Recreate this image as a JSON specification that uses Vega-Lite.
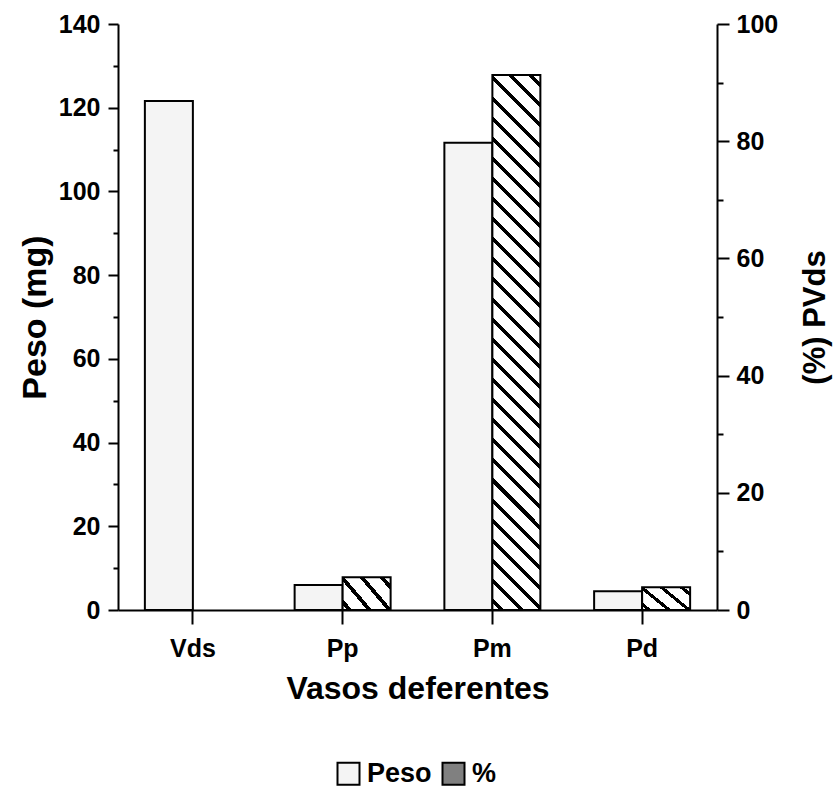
{
  "$schema": "https://vega.github.io/schema/vega-lite/v6.json",
  "autosize": "none",
  "padding": {"left": 118, "top": 24, "right": 118, "bottom": 196},
  "width": 599,
  "height": 586,
  "config": {
    "font": "Liberation Sans",
    "view": {"stroke": null},
    "axis": {
      "labelFontWeight": "bold",
      "titleFontWeight": "bold",
      "labelColor": "black",
      "titleColor": "black",
      "domainColor": "black",
      "tickColor": "black",
      "domainWidth": 2,
      "tickWidth": 2,
      "grid": false,
      "labelFontSize": 25,
      "titleFontSize": 32
    }
  },
  "data": {
    "values": [
      {"cat": "Vds", "series": "Peso", "value": 121.6},
      {"cat": "Pp", "series": "Peso", "value": 6.0},
      {"cat": "Pp", "series": "%", "value": 5.6},
      {"cat": "Pm", "series": "Peso", "value": 111.6},
      {"cat": "Pm", "series": "%", "value": 91.3},
      {"cat": "Pd", "series": "Peso", "value": 4.5},
      {"cat": "Pd", "series": "%", "value": 3.9}
    ]
  },
  "encoding": {
    "x": {
      "field": "cat",
      "type": "nominal",
      "sort": ["Vds", "Pp", "Pm", "Pd"],
      "scale": {"paddingInner": 0, "paddingOuter": 0},
      "axis": {"title": "Vasos deferentes", "labelAngle": 0, "tickSize": 14, "labelPadding": 12, "titlePadding": 12}
    },
    "xOffset": {
      "field": "series",
      "type": "nominal",
      "sort": ["Peso", "%"],
      "scale": {"domain": ["Peso", "%"], "paddingInner": 0, "paddingOuter": 0.56}
    }
  },
  "layer": [
    {
      "transform": [{"filter": "datum.series === 'Peso'"}],
      "mark": {"type": "bar", "stroke": "black", "strokeWidth": 2},
      "encoding": {
        "y": {
          "field": "value",
          "type": "quantitative",
          "scale": {"domain": [0, 140], "nice": false},
          "axis": {
            "orient": "left",
            "title": "Peso (mg)",
            "titleFontSize": 34,
            "values": [0, 10, 20, 30, 40, 50, 60, 70, 80, 90, 100, 110, 120, 130, 140],
            "labelExpr": "datum.value % 20 === 0 ? datum.label : ''",
            "tickSize": {"condition": {"test": "datum.value % 20 === 0", "value": 10}, "value": 5},
            "labelPadding": 8,
            "titlePadding": 6
          }
        },
        "fill": {
          "field": "series",
          "type": "nominal",
          "scale": {"domain": ["Peso", "%"], "range": ["#f4f4f4", "#808080"]},
          "legend": {
            "orient": "none",
            "legendX": 217,
            "legendY": 736,
            "title": null,
            "direction": "horizontal",
            "symbolType": "square",
            "symbolSize": 484,
            "symbolStrokeColor": "black",
            "symbolStrokeWidth": 2,
            "labelFontSize": 27,
            "labelFontWeight": "bold",
            "labelColor": "black",
            "labelOffset": 5,
            "columnPadding": 6,
            "encode": {
              "symbols": {
                "update": {
                  "stroke": {"value": "black"},
                  "strokeWidth": {"value": 2}
                }
              }
            }
          }
        }
      }
    },
    {
      "transform": [{"filter": "datum.series === '%'"}],
      "mark": {"type": "bar", "stroke": "black", "strokeWidth": 2},
      "encoding": {
        "y": {
          "field": "value",
          "type": "quantitative",
          "scale": {"domain": [0, 100], "nice": false},
          "axis": {
            "orient": "right",
            "title": "(%) PVds",
            "titleFontSize": 31,
            "titleAngle": 270,
            "titleBaseline": "top",
            "values": [0, 10, 20, 30, 40, 50, 60, 70, 80, 90, 100],
            "labelExpr": "datum.value % 20 === 0 ? datum.label : ''",
            "tickSize": {"condition": {"test": "datum.value % 20 === 0", "value": 12}, "value": 6},
            "labelPadding": 7,
            "titlePadding": 23
          }
        },
        "fill": {
          "condition": {
            "test": "datum.value > 50",
            "value": {"gradient": "linear", "x1": 0, "y1": 1, "x2": 0.097, "y2": -0.081, "stops": [
              {"offset": 0.0120, "color": "#fff"}, {"offset": 0.0120, "color": "#000"}, {"offset": 0.0206, "color": "#000"}, {"offset": 0.0206, "color": "#fff"},
              {"offset": 0.0465, "color": "#fff"}, {"offset": 0.0465, "color": "#000"}, {"offset": 0.0551, "color": "#000"}, {"offset": 0.0551, "color": "#fff"},
              {"offset": 0.0810, "color": "#fff"}, {"offset": 0.0810, "color": "#000"}, {"offset": 0.0896, "color": "#000"}, {"offset": 0.0896, "color": "#fff"},
              {"offset": 0.1154, "color": "#fff"}, {"offset": 0.1154, "color": "#000"}, {"offset": 0.1240, "color": "#000"}, {"offset": 0.1240, "color": "#fff"},
              {"offset": 0.1499, "color": "#fff"}, {"offset": 0.1499, "color": "#000"}, {"offset": 0.1585, "color": "#000"}, {"offset": 0.1585, "color": "#fff"},
              {"offset": 0.1844, "color": "#fff"}, {"offset": 0.1844, "color": "#000"}, {"offset": 0.1930, "color": "#000"}, {"offset": 0.1930, "color": "#fff"},
              {"offset": 0.2189, "color": "#fff"}, {"offset": 0.2189, "color": "#000"}, {"offset": 0.2275, "color": "#000"}, {"offset": 0.2275, "color": "#fff"},
              {"offset": 0.2534, "color": "#fff"}, {"offset": 0.2534, "color": "#000"}, {"offset": 0.2620, "color": "#000"}, {"offset": 0.2620, "color": "#fff"},
              {"offset": 0.2879, "color": "#fff"}, {"offset": 0.2879, "color": "#000"}, {"offset": 0.2965, "color": "#000"}, {"offset": 0.2965, "color": "#fff"},
              {"offset": 0.3223, "color": "#fff"}, {"offset": 0.3223, "color": "#000"}, {"offset": 0.3309, "color": "#000"}, {"offset": 0.3309, "color": "#fff"},
              {"offset": 0.3568, "color": "#fff"}, {"offset": 0.3568, "color": "#000"}, {"offset": 0.3654, "color": "#000"}, {"offset": 0.3654, "color": "#fff"},
              {"offset": 0.3913, "color": "#fff"}, {"offset": 0.3913, "color": "#000"}, {"offset": 0.3999, "color": "#000"}, {"offset": 0.3999, "color": "#fff"},
              {"offset": 0.4258, "color": "#fff"}, {"offset": 0.4258, "color": "#000"}, {"offset": 0.4344, "color": "#000"}, {"offset": 0.4344, "color": "#fff"},
              {"offset": 0.4603, "color": "#fff"}, {"offset": 0.4603, "color": "#000"}, {"offset": 0.4689, "color": "#000"}, {"offset": 0.4689, "color": "#fff"},
              {"offset": 0.4948, "color": "#fff"}, {"offset": 0.4948, "color": "#000"}, {"offset": 0.5034, "color": "#000"}, {"offset": 0.5034, "color": "#fff"},
              {"offset": 0.5292, "color": "#fff"}, {"offset": 0.5292, "color": "#000"}, {"offset": 0.5378, "color": "#000"}, {"offset": 0.5378, "color": "#fff"},
              {"offset": 0.5637, "color": "#fff"}, {"offset": 0.5637, "color": "#000"}, {"offset": 0.5723, "color": "#000"}, {"offset": 0.5723, "color": "#fff"},
              {"offset": 0.5982, "color": "#fff"}, {"offset": 0.5982, "color": "#000"}, {"offset": 0.6068, "color": "#000"}, {"offset": 0.6068, "color": "#fff"},
              {"offset": 0.6327, "color": "#fff"}, {"offset": 0.6327, "color": "#000"}, {"offset": 0.6413, "color": "#000"}, {"offset": 0.6413, "color": "#fff"},
              {"offset": 0.6672, "color": "#fff"}, {"offset": 0.6672, "color": "#000"}, {"offset": 0.6758, "color": "#000"}, {"offset": 0.6758, "color": "#fff"},
              {"offset": 0.7017, "color": "#fff"}, {"offset": 0.7017, "color": "#000"}, {"offset": 0.7103, "color": "#000"}, {"offset": 0.7103, "color": "#fff"},
              {"offset": 0.7361, "color": "#fff"}, {"offset": 0.7361, "color": "#000"}, {"offset": 0.7447, "color": "#000"}, {"offset": 0.7447, "color": "#fff"},
              {"offset": 0.7706, "color": "#fff"}, {"offset": 0.7706, "color": "#000"}, {"offset": 0.7792, "color": "#000"}, {"offset": 0.7792, "color": "#fff"},
              {"offset": 0.8051, "color": "#fff"}, {"offset": 0.8051, "color": "#000"}, {"offset": 0.8137, "color": "#000"}, {"offset": 0.8137, "color": "#fff"},
              {"offset": 0.8396, "color": "#fff"}, {"offset": 0.8396, "color": "#000"}, {"offset": 0.8482, "color": "#000"}, {"offset": 0.8482, "color": "#fff"},
              {"offset": 0.8741, "color": "#fff"}, {"offset": 0.8741, "color": "#000"}, {"offset": 0.8827, "color": "#000"}, {"offset": 0.8827, "color": "#fff"},
              {"offset": 0.9086, "color": "#fff"}, {"offset": 0.9086, "color": "#000"}, {"offset": 0.9172, "color": "#000"}, {"offset": 0.9172, "color": "#fff"},
              {"offset": 0.9430, "color": "#fff"}, {"offset": 0.9430, "color": "#000"}, {"offset": 0.9516, "color": "#000"}, {"offset": 0.9516, "color": "#fff"},
              {"offset": 0.9775, "color": "#fff"}, {"offset": 0.9775, "color": "#000"}, {"offset": 0.9861, "color": "#000"}, {"offset": 0.9861, "color": "#fff"}
            ]}
          },
          "value": {"gradient": "linear", "x1": 0, "y1": 1, "x2": 1.1814, "y2": 0.3108, "stops": [
            {"offset": 0.060, "color": "#fff"}, {"offset": 0.060, "color": "#000"}, {"offset": 0.126, "color": "#000"}, {"offset": 0.126, "color": "#fff"},
            {"offset": 0.323, "color": "#fff"}, {"offset": 0.323, "color": "#000"}, {"offset": 0.389, "color": "#000"}, {"offset": 0.389, "color": "#fff"},
            {"offset": 0.586, "color": "#fff"}, {"offset": 0.586, "color": "#000"}, {"offset": 0.652, "color": "#000"}, {"offset": 0.652, "color": "#fff"},
            {"offset": 0.849, "color": "#fff"}, {"offset": 0.849, "color": "#000"}, {"offset": 0.915, "color": "#000"}, {"offset": 0.915, "color": "#fff"}
          ]}
        }
      }
    }
  ],
  "resolve": {"scale": {"y": "independent"}, "axis": {"y": "independent"}}
}
